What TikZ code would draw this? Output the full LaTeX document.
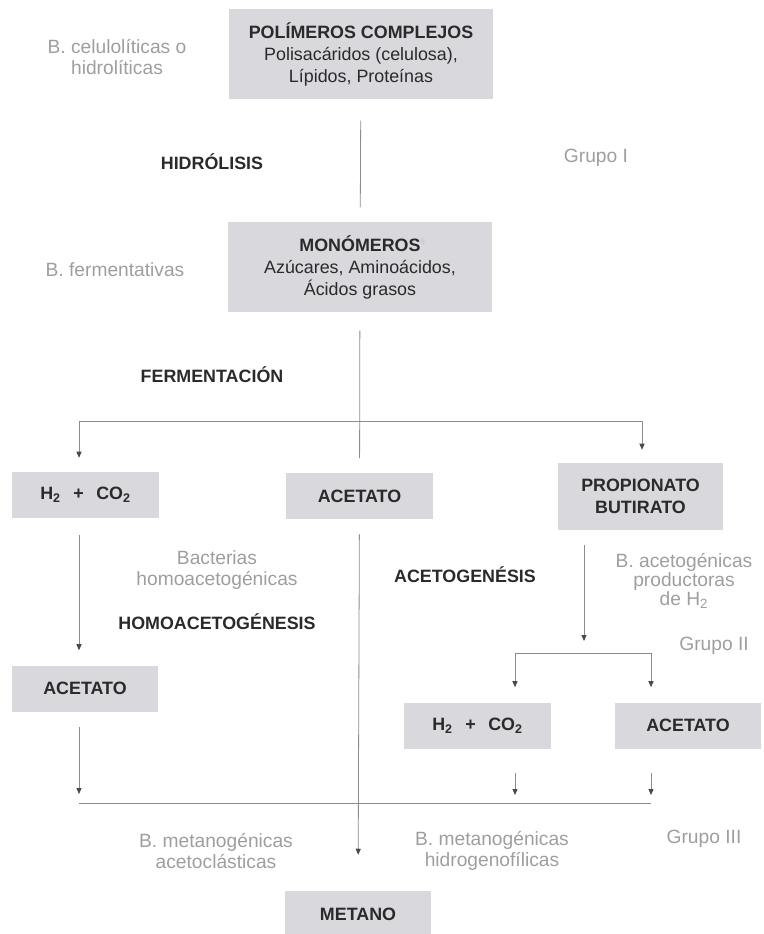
\documentclass[tikz,border=0pt]{standalone}
\usepackage{fontspec}
\setmainfont{Liberation Sans}
\usetikzlibrary{arrows.meta, positioning}
\definecolor{cbox}{HTML}{D8D8DD}
\definecolor{cline}{HTML}{8C8C8C}
\definecolor{ctip}{HTML}{4A4A4A}
\definecolor{cnote}{HTML}{9E9E9E}
\definecolor{ctext}{HTML}{2A2A2A}
\tikzset{
  every picture/.style={font=\fontsize{13.4}{16.5}\selectfont, text=ctext},
  box/.style={fill=cbox, align=center, inner sep=0pt, minimum width=110pt, minimum height=34.5pt, font=\fontsize{13.4}{16.5}\selectfont\bfseries},
  link/.style={draw=cline, line width=0.6pt},
  arrow/.style={link, -{Triangle[length=4.5pt, width=3.8pt, color=ctip]}},
  stage/.style={font=\fontsize{13.4}{16}\selectfont\bfseries},
  note/.style={font=\fontsize{14.4}{15.8}\selectfont, text=cnote, align=center},
}

\begin{document}
\begin{tikzpicture}[x=0.75pt, y=-0.75pt,
  big/.style={box, minimum width=198.5pt, minimum height=68pt, font=\fontsize{13.4}{16.5}\selectfont}]
  \useasboundingbox (0,0) rectangle (763,934);
  % ---------- hidrólisis
  \node[big] (pol) at (361,54) {\textbf{POLÍMEROS COMPLEJOS}\\Polisacáridos (celulosa),\\Lípidos, Proteínas};
  \node[note] (ncel) at (117,57) {B. celulolíticas o\\hidrolíticas};
  \node[stage] (hid) at (212,162) {HIDRÓLISIS};
  \node[note] (g1) at (596,158) {Grupo I};
  \node[big] (mono) at (360,267) {\textbf{MONÓMEROS}\rlap{\textsuperscript{\textcolor{cnote!60}{\fontsize{6}{6}\selectfont 8}}}\\Azúcares, Aminoácidos,\\Ácidos grasos};
  \draw[link, shorten <=15.75pt, shorten >=10.5pt] (pol) -- (mono);
  % ---------- fermentación
  \node[note] (nferm) at (115,270) {B. fermentativas};
  \node[stage] (ferm) at (212,375) {FERMENTACIÓN};
  \node[box] (hco) at (85.5,495) {H\textsubscript{2}\hspace{0.7em}+\hspace{0.7em}CO\textsubscript{2}};
  \node[box] (acet) at (359.5,496) {ACETATO};
  \node[box, minimum width=123.75pt, minimum height=50.25pt] (prop) at (640.5,496.5) {PROPIONATO\\BUTIRATO};
  \coordinate (fl) at (79,421);
  \coordinate (fr) at (642,421);
  \draw[link, shorten <=13.5pt, shorten >=11pt] (mono) -- (acet);
  \draw[link] (fl) -- (fr);
  \draw[arrow, shorten >=10.5pt] (fl) -- (hco.north -| fl);
  \draw[arrow, shorten >=9.75pt] (fr) -- (prop.north -| fr);
  % ---------- homoacetogénesis / acetogénesis
  \node[note] (nhomo) at (217,570) {Bacterias\\homoacetogénicas};
  \node[stage] (homo) at (217,622) {HOMOACETOGÉNESIS};
  \node[stage] (aceto) at (465,575) {ACETOGENÉSIS};
  \node[note, font=\fontsize{14.4}{14.3}\selectfont] (nacet) at (684,581) {B. acetogénicas\\productoras\\de H\textsubscript{2}};
  \node[note] (g2) at (714,646) {Grupo II};
  \node[box] (acetL) at (85,688.5) {ACETATO};
  \node[box] (hcoR) at (477.5,725.5) {H\textsubscript{2}\hspace{0.7em}+\hspace{0.7em}CO\textsubscript{2}};
  \node[box] (acetR) at (688,725.5) {ACETATO};
  \draw[arrow, shorten <=12.75pt, shorten >=11.25pt] (hco.south -| fl) -- (acetL.north -| fl);
  \coordinate (pb) at (584,641);
  \coordinate (gl) at (515,653);
  \coordinate (gr) at (651,653);
  \draw[arrow, shorten <=11.25pt] (prop.south -| pb) -- (pb);
  \draw[link] (gl) -- (gr);
  \draw[arrow, shorten >=11.25pt] (gl) -- (hcoR.north -| gl);
  \draw[arrow, shorten >=11.25pt] (gr) -- (acetR.north -| gr);
  % ---------- metanogénesis
  \coordinate (bl) at (79,803);
  \coordinate (br) at (651,803);
  \draw[arrow, shorten <=11.25pt, shorten >=6.75pt] (acetL.south -| bl) -- (bl);
  \draw[arrow, shorten <=18pt, shorten >=6pt] (hcoR.south -| gl) -- (gl |- bl);
  \draw[arrow, shorten <=18pt, shorten >=6pt] (acetR.south -| gr) -- (br);
  \draw[link] (bl) -- (br);
  \node[note] (nacl) at (216,851) {B. metanogénicas\\acetoclásticas};
  \node[note] (nhid) at (492,851) {B. metanogénicas\\hidrogenofílicas};
  \node[note] (g3) at (704,839) {Grupo III};
  \node[box] (met) at (358,914) {METANO};
  \draw[arrow, shorten <=11.25pt, shorten >=27pt] (acet) -- (met);
\end{tikzpicture}
\end{document}
